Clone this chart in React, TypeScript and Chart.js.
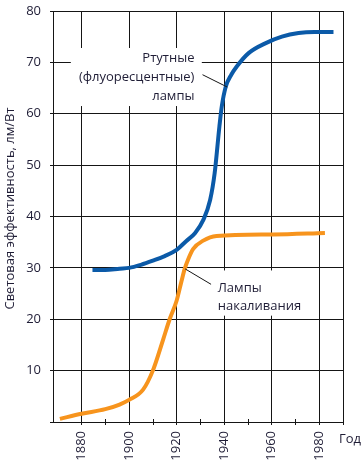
import React, { useEffect, useRef } from "react";
import { Chart, registerables } from "chart.js";

Chart.register(...registerables);

// ---- data ----
const mercuryYears = [1884.6, 1890, 1896, 1900, 1905, 1910, 1915, 1920, 1924, 1927.8, 1931.3, 1934.1, 1936, 1938, 1939, 1940.7, 1943, 1945.3, 1950.3, 1957.3, 1964.3, 1971.3, 1978, 1986];
const mercuryValues = [29.6, 29.6, 29.85, 30.0, 30.6, 31.4, 32.3, 33.5, 35.2, 36.8, 39.4, 43.2, 48.4, 57.5, 61.4, 65.3, 67.6, 69.2, 71.8, 73.7, 75.0, 75.7, 75.9, 75.9];
const incYears = [1870.9, 1880, 1890, 1896, 1900, 1905.9, 1910, 1914.3, 1917, 1920, 1922, 1923.4, 1924.8, 1927, 1931.2, 1936.8, 1960.6, 1982.4];
const incValues = [0.6, 1.6, 2.5, 3.4, 4.3, 6.3, 10.0, 16.0, 19.9, 23.6, 27.3, 29.8, 31.6, 33.7, 35.3, 36.2, 36.5, 36.8];
const xMajorTicks = [1880, 1900, 1920, 1940, 1960, 1980];
const xMinorTicks = [1890, 1910, 1930, 1950, 1970];
const xMin = 1868;
const xMax = 1990;
const yMin = 0;
const yMax = 80;
const yStep = 10;
const mercuryLabel = ["Ртутные", "(флуоресцентные)", "лампы"];
const incLabel = ["Лампы", "накаливания"];
const yTitle = "Световая эффективность, лм/Вт";
const xTitle = "Год";

const FONT = "'Open Sans', 'Noto Sans', sans-serif";
const TEXT = "#1f1d36";
const GRID = "#151515";
const BLUE = "#0b5aa8";
const ORANGE = "#f7941d";

const annotPlugin = {
  id: "annot",
  beforeDatasetsDraw(chart: any) {
    const { ctx, scales, chartArea } = chart;
    const x = scales.x, y = scales.y;
    ctx.save();
    // minor ticks on the x axis
    ctx.strokeStyle = GRID;
    ctx.lineWidth = 1;
    xMinorTicks.forEach((v) => {
      const px = Math.round(x.getPixelForValue(v)) + 0.5;
      ctx.beginPath();
      ctx.moveTo(px, chartArea.bottom - 3);
      ctx.lineTo(px, chartArea.bottom + 3);
      ctx.stroke();
    });
    // white label backgrounds over the grid
    ctx.fillStyle = "#ffffff";
    const box = (x0: number, x1: number, y0: number, y1: number) => {
      const px0 = x.getPixelForValue(x0), px1 = x.getPixelForValue(x1);
      const py0 = y.getPixelForValue(y0), py1 = y.getPixelForValue(y1);
      ctx.fillRect(px0, py0, px1 - px0, py1 - py0);
    };
    box(1875.5, 1930.6, 72.8, 61.5);
    box(1936.1, 1974, 29.5, 20.7);
    ctx.restore();
  },
  afterDatasetsDraw(chart: any) {
    const { ctx, scales, chartArea } = chart;
    const x = scales.x, y = scales.y;
    ctx.save();
    ctx.strokeStyle = GRID;
    ctx.lineWidth = 1;
    const line = (x0: number, y0: number, x1: number, y1: number) => {
      ctx.beginPath();
      ctx.moveTo(x.getPixelForValue(x0), y.getPixelForValue(y0));
      ctx.lineTo(x.getPixelForValue(x1), y.getPixelForValue(y1));
      ctx.stroke();
    };
    line(1930.9, 67.6, 1941.3, 65.2);
    line(1934.5, 26.8, 1923.6, 29.8);

    ctx.fillStyle = TEXT;
    ctx.font = `13px ${FONT}`;
    ctx.textBaseline = "middle";
    ctx.textAlign = "right";
    const mx = x.getPixelForValue(1927.5);
    const my0 = y.getPixelForValue(70.7);
    mercuryLabel.forEach((t, i) => ctx.fillText(t, mx, my0 + i * 19));
    ctx.textAlign = "left";
    const ix = x.getPixelForValue(1937.3);
    const iy0 = y.getPixelForValue(26.1);
    incLabel.forEach((t, i) => ctx.fillText(t, ix, iy0 + i * 18.5));

    ctx.textAlign = "left";
    ctx.fillText(xTitle, chartArea.right - 4, chartArea.bottom + 17);
    ctx.translate(10, (chartArea.top + chartArea.bottom) / 2 - 8);
    ctx.rotate(-Math.PI / 2);
    ctx.textAlign = "center";
    ctx.fillText(yTitle, 0, 0);
    ctx.restore();
  },
};

const zeroPad = (s: any) => {
  s.paddingTop = 0;
  s.paddingBottom = 0;
  s.paddingLeft = 0;
  s.paddingRight = 0;
};

export default function App() {
  const ref = useRef<HTMLCanvasElement | null>(null);
  useEffect(() => {
    document.body.style.margin = "0";
    const canvas = ref.current!;
    const chart = new Chart(canvas, {
      type: "line",
      data: {
        datasets: [
          {
            label: "Ртутные (флуоресцентные) лампы",
            data: mercuryYears.map((yr, i) => ({ x: yr, y: mercuryValues[i] })),
            borderColor: BLUE,
            borderWidth: 4,
            pointRadius: 0,
            fill: false,
            cubicInterpolationMode: "monotone",
            borderCapStyle: "butt",
          },
          {
            label: "Лампы накаливания",
            data: incYears.map((yr, i) => ({ x: yr, y: incValues[i] })),
            borderColor: ORANGE,
            borderWidth: 4,
            pointRadius: 0,
            fill: false,
            cubicInterpolationMode: "monotone",
            borderCapStyle: "butt",
          },
        ],
      },
      options: {
        animation: false,
        responsive: false,
        devicePixelRatio: 1,
        layout: { padding: { left: 0, right: 21, top: 11, bottom: 0 } },
        plugins: { legend: { display: false }, tooltip: { enabled: false } },
        scales: {
          x: {
            type: "linear",
            min: xMin,
            max: xMax,
            afterBuildTicks: (s: any) => {
              s.ticks = [...xMajorTicks, xMax].map((v) => ({ value: v }));
            },
            afterFit: (s: any) => {
              s.height = 54;
              zeroPad(s);
            },
            ticks: {
              autoSkip: false,
              minRotation: 90,
              maxRotation: 90,
              padding: 6,
              color: TEXT,
              font: { family: FONT, size: 13 },
              callback: (v: any) => (xMajorTicks.includes(v) ? String(v) : ""),
            },
            grid: { color: GRID, lineWidth: 1, tickLength: 3 },
            border: { color: GRID, width: 1 },
          },
          y: {
            min: yMin,
            max: yMax,
            afterFit: (s: any) => {
              s.width = 53;
              zeroPad(s);
            },
            ticks: {
              stepSize: yStep,
              padding: 9,
              color: TEXT,
              font: { family: FONT, size: 13 },
              callback: (v: any) => (v === 0 ? "" : String(v)),
            },
            grid: { color: GRID, lineWidth: 1, tickLength: 3 },
            border: { color: GRID, width: 1 },
          },
        },
      },
      plugins: [annotPlugin],
    } as any);
    return () => chart.destroy();
  }, []);
  return (
    <canvas
      ref={ref}
      width={364}
      height={476}
      style={{ display: "block", width: 364, height: 476 }}
    />
  );
}
